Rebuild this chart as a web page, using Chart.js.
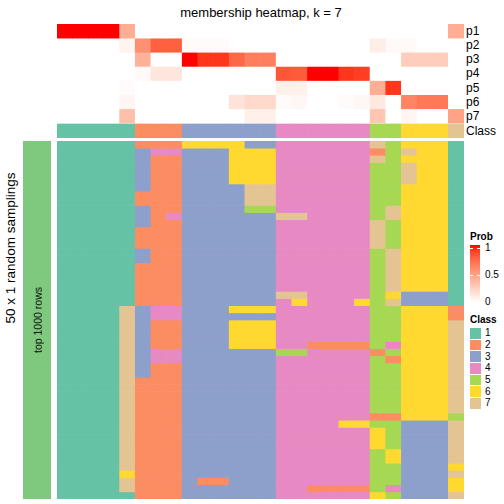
<!DOCTYPE html>
<html><head><meta charset="utf-8">
<script src="https://cdn.jsdelivr.net/npm/chart.js@4/dist/chart.umd.min.js"></script>
<style>
body{margin:0;background:#fff;width:504px;height:504px;position:relative;overflow:hidden;font-family:"Liberation Sans",Arial,Helvetica,sans-serif;}
canvas{position:absolute;}
.t{position:absolute;white-space:nowrap;color:#000;line-height:1;}
.c{transform:translate(-50%,-50%);}
.l{transform:translate(0,-50%);}
.r{transform:translate(-50%,-50%) rotate(-90deg);}
.sw{position:absolute;width:11px;height:10.6px;}
</style></head><body>
<canvas id="top" width="407" height="114" style="left:57px;top:24px"></canvas>
<canvas id="bot" width="407" height="358" style="left:57px;top:141px"></canvas>
<canvas id="ann" width="28" height="358" style="left:23px;top:141px"></canvas>
<div id="txt"></div>
<script>
// ---- data ----
const columns = Array.from({length:26},(_,i)=>"s"+(i+1));
const probLabels = ["p1","p2","p3","p4","p5","p6","p7"];
const p1 = [1,1,1,1,0.42, 0,0,0, 0,0,0,0,0,0, 0,0,0,0,0,0, 0,0, 0,0,0, 0.42];
const p2 = [0,0,0,0,0.06, 0.57,0.78,0.78, 0.02,0.02,0.02,0,0,0, 0,0,0,0,0,0, 0.09,0.03, 0.03,0,0, 0];
const p3 = [0,0,0,0,0, 0.4,0,0, 1,0.92,0.92,0.75,0.65,0.65, 0,0,0,0,0,0, 0,0, 0.26,0.26,0.26, 0];
const p4 = [0,0,0,0,0, 0.03,0.13,0.13, 0,0,0,0,0,0, 0.82,0.8,1,1,0.92,0.9, 0,0, 0,0,0, 0];
const p5 = [0,0,0,0,0.02, 0,0,0, 0,0,0,0,0,0, 0.08,0.08,0,0,0,0, 0.42,0.92, 0,0,0, 0];
const p6 = [0,0,0,0,0.05, 0,0,0, 0,0,0,0.15,0.2,0.2, 0.02,0.04,0,0,0.02,0.04, 0.12,0, 0.62,0.68,0.68, 0];
const p7 = [0,0,0,0,0.33, 0,0,0, 0,0,0,0,0.08,0.08, 0,0,0,0,0,0, 0.3,0,0.05,0,0, 0.48];
const classRow = [1,1,1,1,1, 2,2,2, 3,3,3,3,3,3, 4,4,4,4,4,4, 5,5, 6,6,6, 7];
const classLabels = ["1","2","3","4","5","6","7"];
const classColors = ["#66C2A5","#FC8D62","#8DA0CB","#E78AC3","#A6D854","#FFD92F","#E5C494"];
// 50 random samplings: class of each column per sampling
const samplings = [
"11111222666633444444756661",
"11111344333666444444257661",
"11111322333666444444756661",
"11111322333666444444557661",
"11111322333666444444557661",
"11111322333666444444557661",
"11111322333377444444556661",
"11111222333377444444556661",
"11111222333377444444556661",
"11111322333355444444576661",
"11111324333333774444576661",
"11111322333333444444756661",
"11111222333333444444756661",
"11111222333333444444756661",
"11111222333333444444756661",
"11111322333333444444576661",
"11111322333333444444576661",
"11111222333333444444576661",
"11111222333333444444576661",
"11111222333333444444576661",
"11111222333333444444576661",
"11111222333333774444563331",
"11111222333333464446573331",
"11117344333666444444556662",
"11117344333333444444556662",
"11117322333666444444556667",
"11117322333666444444556667",
"11117322333666444444556667",
"11117322333666442222546667",
"11117344333333554444256667",
"11117344333333444444526667",
"11117322333333444444556667",
"11117322333333444444556667",
"11117222333333444444556667",
"11117222333333444444556667",
"11117222333333444444556667",
"11117222333333444444556667",
"11117222333333444444556667",
"11117222333333444444226665",
"11117222333333444466553337",
"11117222333333444444653337",
"11117222333333444444653337",
"11117222333333444444653337",
"11117222333333444444563337",
"11117222333333444444563337",
"11117222333333444444553336",
"11116222333333444444553337",
"11117222322333444444553336",
"11117222333333442222543336",
"11111222333333444444653337"
];
const annColor = "#7FC97F";

// ---- colour helpers ----
function probColor(t){
  const L=100+(53.2408-100)*t, A=80.0925*t, B=67.2032*t;
  const fy=(L+16)/116, fx=fy+A/500, fz=fy-B/200;
  const finv=f=>{const f3=f*f*f; return f3>0.008856?f3:(f-16/116)/7.787;};
  const X=0.95047*finv(fx), Y=finv(fy), Z=1.08883*finv(fz);
  const r=3.2406*X-1.5372*Y-0.4986*Z, g=-0.9689*X+1.8758*Y+0.0415*Z, b=0.0557*X-0.2040*Y+1.0570*Z;
  const gam=c=>{c=Math.max(0,Math.min(1,c));return Math.round(255*(c<=0.0031308?12.92*c:1.055*Math.pow(c,1/2.4)-0.055));};
  return `rgb(${gam(r)},${gam(g)},${gam(b)})`;
}
const clsColor = k => classColors[k-1];

function heat(id, labels, rows, yMax){
  return new Chart(document.getElementById(id), {
    type:'bar',
    data:{labels, datasets: rows.map(r=>({
      data: labels.map(()=>[r.y0,r.y1]),
      backgroundColor: r.colors,
      borderWidth:0, grouped:false, barPercentage:1, categoryPercentage:1
    }))},
    options:{responsive:false, animation:false, devicePixelRatio:1, events:[],
      layout:{padding:0},
      plugins:{legend:{display:false}, tooltip:{enabled:false}},
      scales:{x:{display:false, offset:true}, y:{display:false, min:0, max:yMax, reverse:true}}}
  });
}

// top: probability rows + class row
const probRows = [p1,p2,p3,p4,p5,p6,p7];
const topRows = probRows.map((p,i)=>({y0:i, y1:i+1, colors:p.map(probColor)}));
topRows.push({y0:7.07, y1:8.07, colors:classRow.map(clsColor)});
heat('top', columns, topRows, 8.07);

// bottom: samplings
heat('bot', columns, samplings.map((s,i)=>({y0:i, y1:i+1, colors:s.split('').map(c=>clsColor(+c))})), 50);

// left annotation
heat('ann', ["top 1000 rows"], [{y0:0, y1:50, colors:[annColor]}], 50);

// ---- text & legends ----
const T = document.getElementById('txt');
function txt(s, x, y, size, cls, extra){
  const d=document.createElement('div'); d.className='t '+cls; d.textContent=s;
  d.style.left=x+'px'; d.style.top=y+'px'; d.style.fontSize=size+'px';
  if(extra) Object.assign(d.style, extra);
  T.appendChild(d);
}
txt("membership heatmap, k = 7", 261, 12, 13, 'c');
probLabels.forEach((s,i)=>txt(s, 466, 24+14.13*(i+0.5), 12, 'l'));
txt("Class", 466, 131, 12, 'l');
txt("50 x 1 random samplings", 11, 248, 13.5, 'r');
txt("top 1000 rows", 38, 320, 10.5, 'r');

// Prob legend
txt("Prob", 470, 237, 10, 'l', {fontWeight:'bold'});
const g=document.createElement('div');
const stops=[]; for(let i=0;i<=10;i++){stops.push(probColor(1-i/10)+' '+(i*10)+'%');}
Object.assign(g.style,{position:'absolute',left:'470px',top:'245px',width:'10px',height:'57px',background:'linear-gradient(to bottom,'+stops.join(',')+')'});
T.appendChild(g);
[[248],[275]].forEach(([y])=>{
  [470,477].forEach(x=>{const m=document.createElement('div');Object.assign(m.style,{position:'absolute',left:x+'px',top:(y-0.5)+'px',width:'3px',height:'1px',background:'#fff'});T.appendChild(m);});
});
txt("1", 485, 248, 10, 'l'); txt("0.5", 485, 275, 10, 'l'); txt("0", 485, 302, 10, 'l');

// Class legend
txt("Class", 470, 320, 10, 'l', {fontWeight:'bold'});
classLabels.forEach((s,i)=>{
  const y=328+11.67*i;
  const d=document.createElement('div'); d.className='sw';
  Object.assign(d.style,{left:'470px',top:y+'px',background:classColors[i]});
  T.appendChild(d);
  txt(s, 485, y+5.3, 10, 'l');
});
</script>
</body></html>
